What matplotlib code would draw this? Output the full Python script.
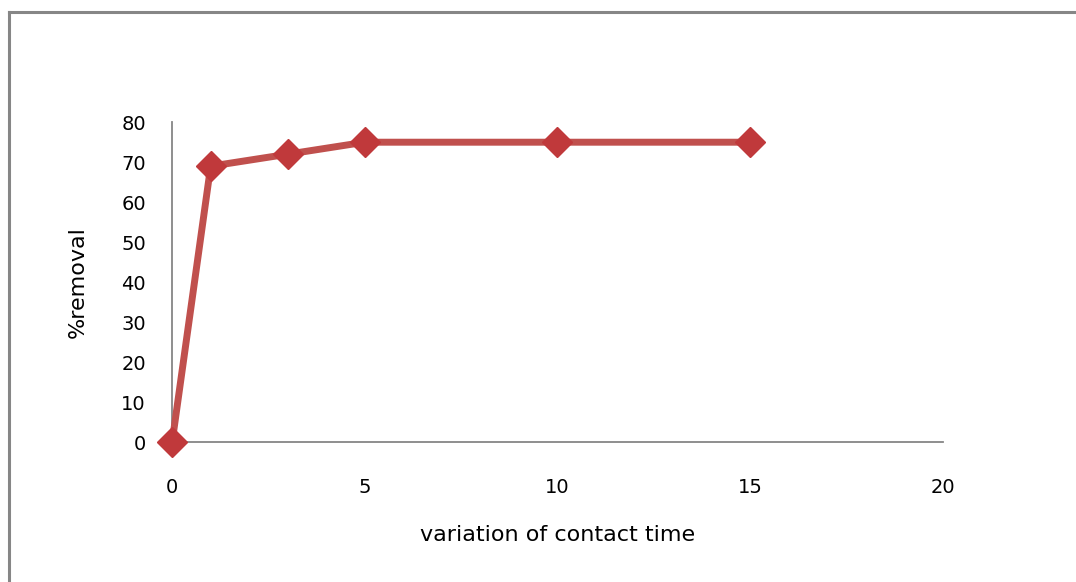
import matplotlib
matplotlib.use("Agg")
import matplotlib.pyplot as plt
from matplotlib.lines import Line2D

# contact time vs % removal
contact_time = [0, 1, 3, 5, 10, 15]
removal = [0, 69, 72, 75, 75, 75]
x_ticks = [0, 5, 10, 15, 20]
y_ticks = [0, 10, 20, 30, 40, 50, 60, 70, 80]

fig = plt.figure(figsize=(10.76, 5.82), dpi=100)
ax = fig.add_axes([0.160, 0.2405, 0.716, 0.5495])

ax.plot(contact_time, removal, color="#c0504d", linewidth=5, marker="D",
        markersize=15, markerfacecolor="#c0393b", markeredgecolor="#c0393b",
        solid_joinstyle="round", clip_on=False, zorder=3)

ax.set_xlim(0, 20)
ax.set_ylim(0, 80)
ax.set_xticks(x_ticks)
ax.set_yticks(y_ticks)

# only left and bottom axis lines, in grey
for side in ["top", "right"]:
    ax.spines[side].set_visible(False)
for side in ["left", "bottom"]:
    ax.spines[side].set_color("#868686")
    ax.spines[side].set_linewidth(1.3)

ax.tick_params(axis="x", length=0, pad=26, labelsize=14)
ax.tick_params(axis="y", length=0, pad=19, labelsize=14)

ax.set_xlabel("variation of contact time", fontsize=16, labelpad=20)
ax.set_ylabel("%removal", fontsize=16, labelpad=24)

# grey frame along the left and top edge of the picture
fig.add_artist(Line2D([0.0080, 0.0080], [0, 0.979], color="#868686", linewidth=2.2))
fig.add_artist(Line2D([0.0080, 1.0], [0.979, 0.979], color="#868686", linewidth=2.2))

plt.savefig("out.png", dpi=100)
plt.close()
